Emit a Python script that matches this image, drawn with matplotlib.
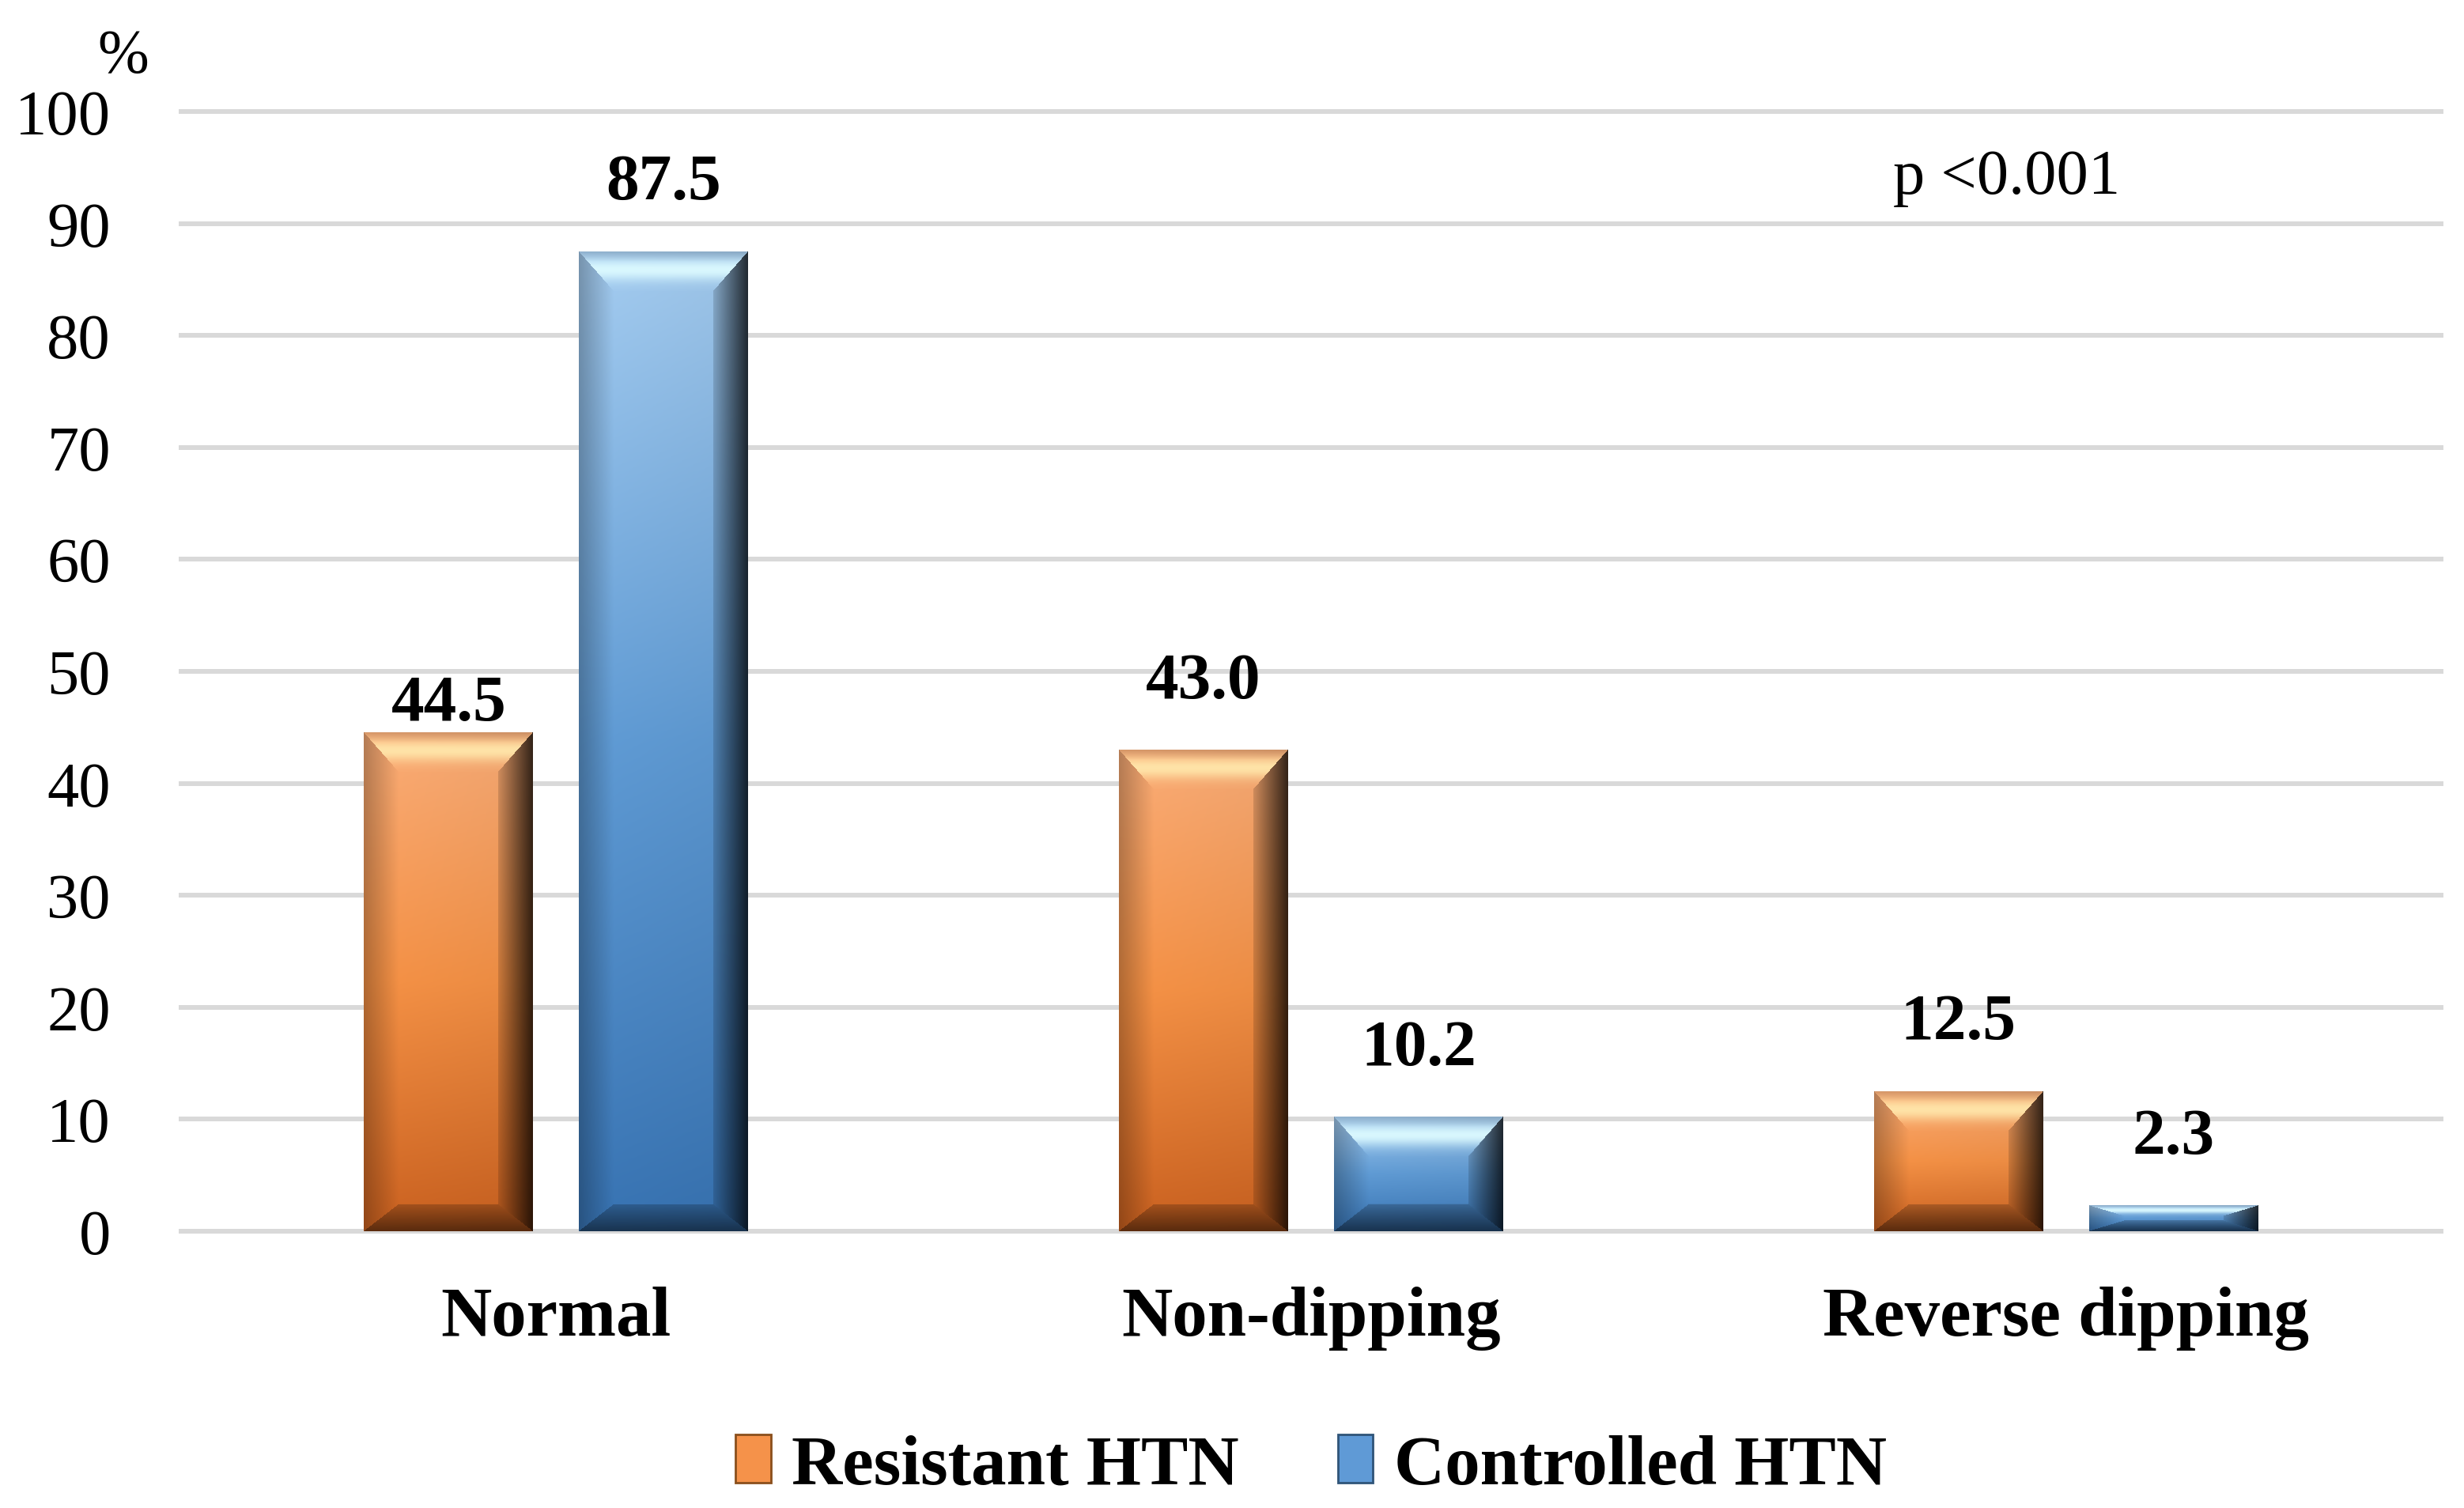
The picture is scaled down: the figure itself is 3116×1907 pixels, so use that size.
import numpy as np
import matplotlib.pyplot as plt
from matplotlib.patches import Patch

# data
categories = ['Normal', 'Non-dipping', 'Reverse dipping']
resistant = [44.5, 43.0, 12.5]
controlled = [87.5, 10.2, 2.3]
series_names = ['Resistant HTN', 'Controlled HTN']
yticks = [0, 10, 20, 30, 40, 50, 60, 70, 80, 90, 100]
p_text = 'p <0.001'

plt.rcParams['font.family'] = ['Liberation Serif', 'DejaVu Serif']

W, H = 3116, 1908
fig = plt.figure(figsize=(W / 100, H / 100), dpi=100)
ax = fig.add_axes([226 / W, 350 / H, 2864 / W, 1416 / H])

# bevel colours (rgb 0-255): top / middle / bottom of the face, highlight
orange = dict(top=(252, 174, 120), midc=(246, 146, 70), bot=(204, 98, 32),
              hi=(255, 230, 170), mid='#f5924a')
blue = dict(top=(166, 206, 242), midc=(96, 156, 214), bot=(56, 116, 180),
            hi=(220, 250, 255), mid='#5f9ad6')


def bevel_img(wp, hp, col):
    # rgb picture of a bevelled bar, wp x hp pixels
    wp = max(int(round(wp)), 2)
    hp = max(int(round(hp)), 2)
    top = np.array(col['top']) / 255
    mc = np.array(col['midc']) / 255
    bot = np.array(col['bot']) / 255
    hi = np.array(col['hi']) / 255
    r = np.linspace(0, 1, hp)[:, None, None]
    c = np.linspace(0, 1, wp)[None, :, None]
    up = np.clip(r * 2, 0, 1)
    lo = np.clip(r * 2 - 1, 0, 1)
    face = np.where(r < 0.5, top * (1 - up) + mc * up, mc * (1 - lo) + bot * lo)
    face = np.broadcast_to(face, (hp, wp, 3)).copy()
    face *= (1 - 0.05 * c)

    s = min(44, wp * 0.25)
    st = min(50, hp * 0.4)
    sb = min(34, hp * 0.4)
    ii = np.arange(hp)[:, None] * np.ones((1, wp))
    jj = np.ones((hp, 1)) * np.arange(wp)[None, :]
    d = np.stack([jj / s, (wp - 1 - jj) / s, ii / st, (hp - 1 - ii) / sb])
    reg = d.argmin(0)
    f = np.clip(d.min(0), 0, 1)[..., None]
    inb = (d.min(0) < 1)[..., None]

    left = face * (0.72 + 0.28 * f)
    right = face * (0.22 + 0.65 * f)
    wgt = 0.95 * np.exp(-((f - 0.45) / 0.28) ** 2)
    topc = (hi * wgt + face * (1 - wgt)) * (0.85 + 0.15 * np.minimum(f * 4, 1))
    botc = face * (0.45 + 0.35 * f)

    out = face.copy()
    for k, cc in enumerate([left, right, topc, botc]):
        m = (reg == k)[..., None] & inb
        out = np.where(m, cc, out)
    return np.clip(out, 0, 1)


x = np.arange(len(categories))
bw = 0.224
off = 0.1425
ax.set_xlim(-0.5, 2.5)
ax.set_ylim(0, 100)

# grid
ax.hlines(yticks, -0.5, 2.5, colors='#d9d9d9', lw=4.3, zorder=0, clip_on=False)

px_x = 2864 / 3.0
px_y = 1416 / 100.0
label_nudge = {(0, 0): -36}

for s_i, (vals, col) in enumerate([(resistant, orange), (controlled, blue)]):
    xs = x - off if s_i == 0 else x + off
    bars = ax.bar(xs, vals, bw, color=col['mid'], zorder=2)
    for b_i, rect in enumerate(bars):
        x0 = rect.get_x()
        w = rect.get_width()
        h = rect.get_height()
        img = bevel_img(w * px_x, h * px_y, col)
        ax.imshow(img, extent=[x0, x0 + w, 0, h], aspect='auto',
                  interpolation='bilinear', zorder=3)
        ax.annotate(f'{h:.1f}', (x0 + w / 2, h), xytext=(0, 62 + label_nudge.get((s_i, b_i), 0)),
                    textcoords='offset points', ha='center', va='center',
                    fontsize=60, fontweight='bold', zorder=4)

ax.set_xlim(-0.5, 2.5)
ax.set_ylim(0, 100)

ax.set_yticks(yticks)
ax.set_xticks(x, categories)
ax.tick_params(axis='y', length=0, pad=62, labelsize=58)
ax.tick_params(axis='x', length=0, pad=50, labelsize=64)
for t in ax.get_xticklabels():
    t.set_fontweight('bold')
for sp in ax.spines.values():
    sp.set_visible(False)

ax.text(0.807, 0.941, p_text, transform=ax.transAxes, ha='center', va='center', fontsize=58)
fig.text(156 / W, 1 - 72 / H, '%', ha='center', va='center', fontsize=56)

handles = [Patch(facecolor=orange['mid'], edgecolor='#8a4f1c', lw=2),
           Patch(facecolor=blue['mid'], edgecolor='#2f5478', lw=2)]
ax.legend(handles, series_names, loc='center', bbox_to_anchor=(0.5, -0.21), ncol=2,
          frameon=False, handlelength=0.5, handleheight=0.68, handletextpad=0.3,
          columnspacing=1.4, prop={'weight': 'bold', 'size': 64})

fig.savefig('out.png', dpi=100, facecolor='white')
